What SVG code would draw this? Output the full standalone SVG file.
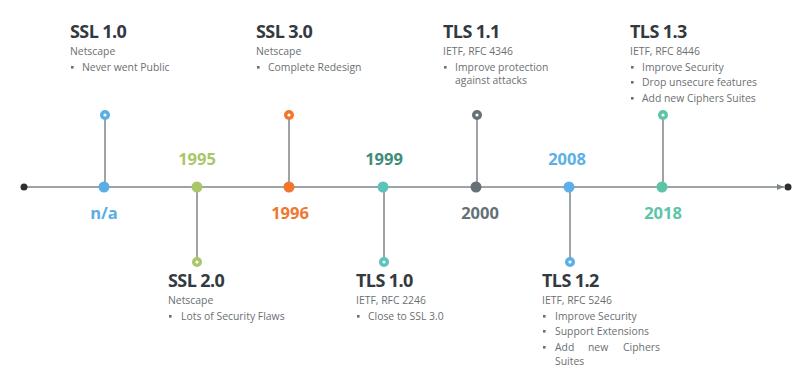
<svg xmlns="http://www.w3.org/2000/svg" width="800" height="387" viewBox="0 0 800 387">
<style>
.title{font-family:"Open Sans","Liberation Sans",sans-serif;font-weight:bold;font-size:18px;fill:#333a3f;letter-spacing:-0.6px}
.sub{font-family:"Open Sans","Liberation Sans",sans-serif;font-size:10.4px;fill:#6b6f73}
.yr{font-family:"Open Sans","Liberation Sans",sans-serif;font-weight:bold;font-size:16.5px;text-anchor:middle}
.stem{stroke:#7d8489;stroke-width:1.5;fill:none}
.bul{fill:#6b6f73}
</style>
<defs>
<marker id="arr" markerWidth="8" markerHeight="8" refX="7" refY="4" orient="auto" markerUnits="userSpaceOnUse">
<path d="M0,1 L7,4 L0,7 Z" fill="#7d8489"/>
</marker>
</defs>
<g id="connectors">
<line x1="24" y1="187" x2="784" y2="187" class="stem" marker-end="url(#arr)"/>
<line x1="105" y1="115" x2="105" y2="187" class="stem"/>
<line x1="289" y1="115" x2="289" y2="187" class="stem"/>
<line x1="477" y1="115" x2="477" y2="187" class="stem"/>
<line x1="663" y1="115" x2="663" y2="187" class="stem"/>
<line x1="197" y1="187" x2="197" y2="262" class="stem"/>
<line x1="384" y1="187" x2="384" y2="262" class="stem"/>
<line x1="570" y1="187" x2="570" y2="262" class="stem"/>
</g>
<g id="endpoints">
<circle cx="24" cy="187" r="3.5" fill="#2b2f33"/>
<circle cx="788" cy="187" r="3.5" fill="#2b2f33"/>
</g>
<g id="ssl10">
<circle cx="104" cy="187" r="5.5" fill="#5aaee3"/>
<circle cx="105" cy="115" r="5" fill="#5aaee3"/>
<circle cx="105" cy="115" r="1.6" fill="#fff"/>
<text x="104" y="219" class="yr" fill="#5aaee3">n/a</text>
<text x="70" y="38" class="title">SSL 1.0</text>
<text x="70" y="55" class="sub">Netscape</text>
<rect x="71" y="66" width="2.6" height="2.6" class="bul"/>
<text x="82" y="71" class="sub">Never went Public</text>
</g>
<g id="ssl20">
<circle cx="197" cy="187" r="5.5" fill="#a9c76a"/>
<circle cx="197" cy="262" r="5" fill="#a9c76a"/>
<circle cx="197" cy="262" r="1.6" fill="#fff"/>
<text x="197" y="165" class="yr" fill="#a9c76a">1995</text>
<text x="168" y="287" class="title">SSL 2.0</text>
<text x="168" y="304" class="sub">Netscape</text>
<rect x="169" y="315" width="2.6" height="2.6" class="bul"/>
<text x="181" y="320" class="sub">Lots of Security Flaws</text>
</g>
<g id="ssl30">
<circle cx="289" cy="187" r="5.5" fill="#f0772e"/>
<circle cx="289" cy="115" r="5" fill="#f0772e"/>
<circle cx="289" cy="115" r="1.6" fill="#fff"/>
<text x="290" y="219" class="yr" fill="#f0772e">1996</text>
<text x="256" y="38" class="title">SSL 3.0</text>
<text x="256" y="55" class="sub">Netscape</text>
<rect x="257" y="66" width="2.6" height="2.6" class="bul"/>
<text x="268" y="71" class="sub">Complete Redesign</text>
</g>
<g id="tls10">
<circle cx="383" cy="187" r="5.5" fill="#5cc3b8"/>
<circle cx="384" cy="262" r="5" fill="#5cc3b8"/>
<circle cx="384" cy="262" r="1.6" fill="#fff"/>
<text x="384" y="165" class="yr" fill="#3e8c7b">1999</text>
<text x="356" y="287" class="title">TLS 1.0</text>
<text x="356" y="304" class="sub">IETF, RFC 2246</text>
<rect x="357" y="315" width="2.6" height="2.6" class="bul"/>
<text x="368" y="320" class="sub">Close to SSL 3.0</text>
</g>
<g id="tls11">
<circle cx="476" cy="187" r="5.5" fill="#657077"/>
<circle cx="477" cy="115" r="5" fill="#657077"/>
<circle cx="477" cy="115" r="1.6" fill="#fff"/>
<text x="480" y="219" class="yr" fill="#657077">2000</text>
<text x="443" y="38" class="title">TLS 1.1</text>
<text x="443" y="55" class="sub">IETF, RFC 4346</text>
<rect x="444" y="66" width="2.6" height="2.6" class="bul"/>
<text x="455" y="71" class="sub">Improve protection</text>
<text x="455" y="84" class="sub">against attacks</text>
</g>
<g id="tls12">
<circle cx="569" cy="187" r="5.5" fill="#5bb0e8"/>
<circle cx="570" cy="262" r="5" fill="#5bb0e8"/>
<circle cx="570" cy="262" r="1.6" fill="#fff"/>
<text x="567" y="165" class="yr" fill="#5bb0e8">2008</text>
<text x="542" y="287" class="title">TLS 1.2</text>
<text x="542" y="304" class="sub">IETF, RFC 5246</text>
<rect x="543" y="315" width="2.6" height="2.6" class="bul"/>
<text x="555" y="320" class="sub">Improve Security</text>
<rect x="543" y="330" width="2.6" height="2.6" class="bul"/>
<text x="555" y="335" class="sub">Support Extensions</text>
<rect x="543" y="346" width="2.6" height="2.6" class="bul"/>
<text y="351" class="sub"><tspan x="555">Add</tspan><tspan x="588">new</tspan><tspan x="623">Ciphers</tspan></text>
<text x="555" y="365" class="sub">Suites</text>
</g>
<g id="tls13">
<circle cx="662" cy="187" r="5.5" fill="#5cc5a8"/>
<circle cx="663" cy="115" r="5" fill="#5cc5a8"/>
<circle cx="663" cy="115" r="1.6" fill="#fff"/>
<text x="663" y="219" class="yr" fill="#5cc5a8">2018</text>
<text x="630" y="38" class="title">TLS 1.3</text>
<text x="630" y="55" class="sub">IETF, RFC 8446</text>
<rect x="631" y="66" width="2.6" height="2.6" class="bul"/>
<text x="642" y="71" class="sub">Improve Security</text>
<rect x="631" y="81" width="2.6" height="2.6" class="bul"/>
<text x="642" y="86" class="sub">Drop unsecure features</text>
<rect x="631" y="97" width="2.6" height="2.6" class="bul"/>
<text x="642" y="102" class="sub">Add new Ciphers Suites</text>
</g>
</svg>
